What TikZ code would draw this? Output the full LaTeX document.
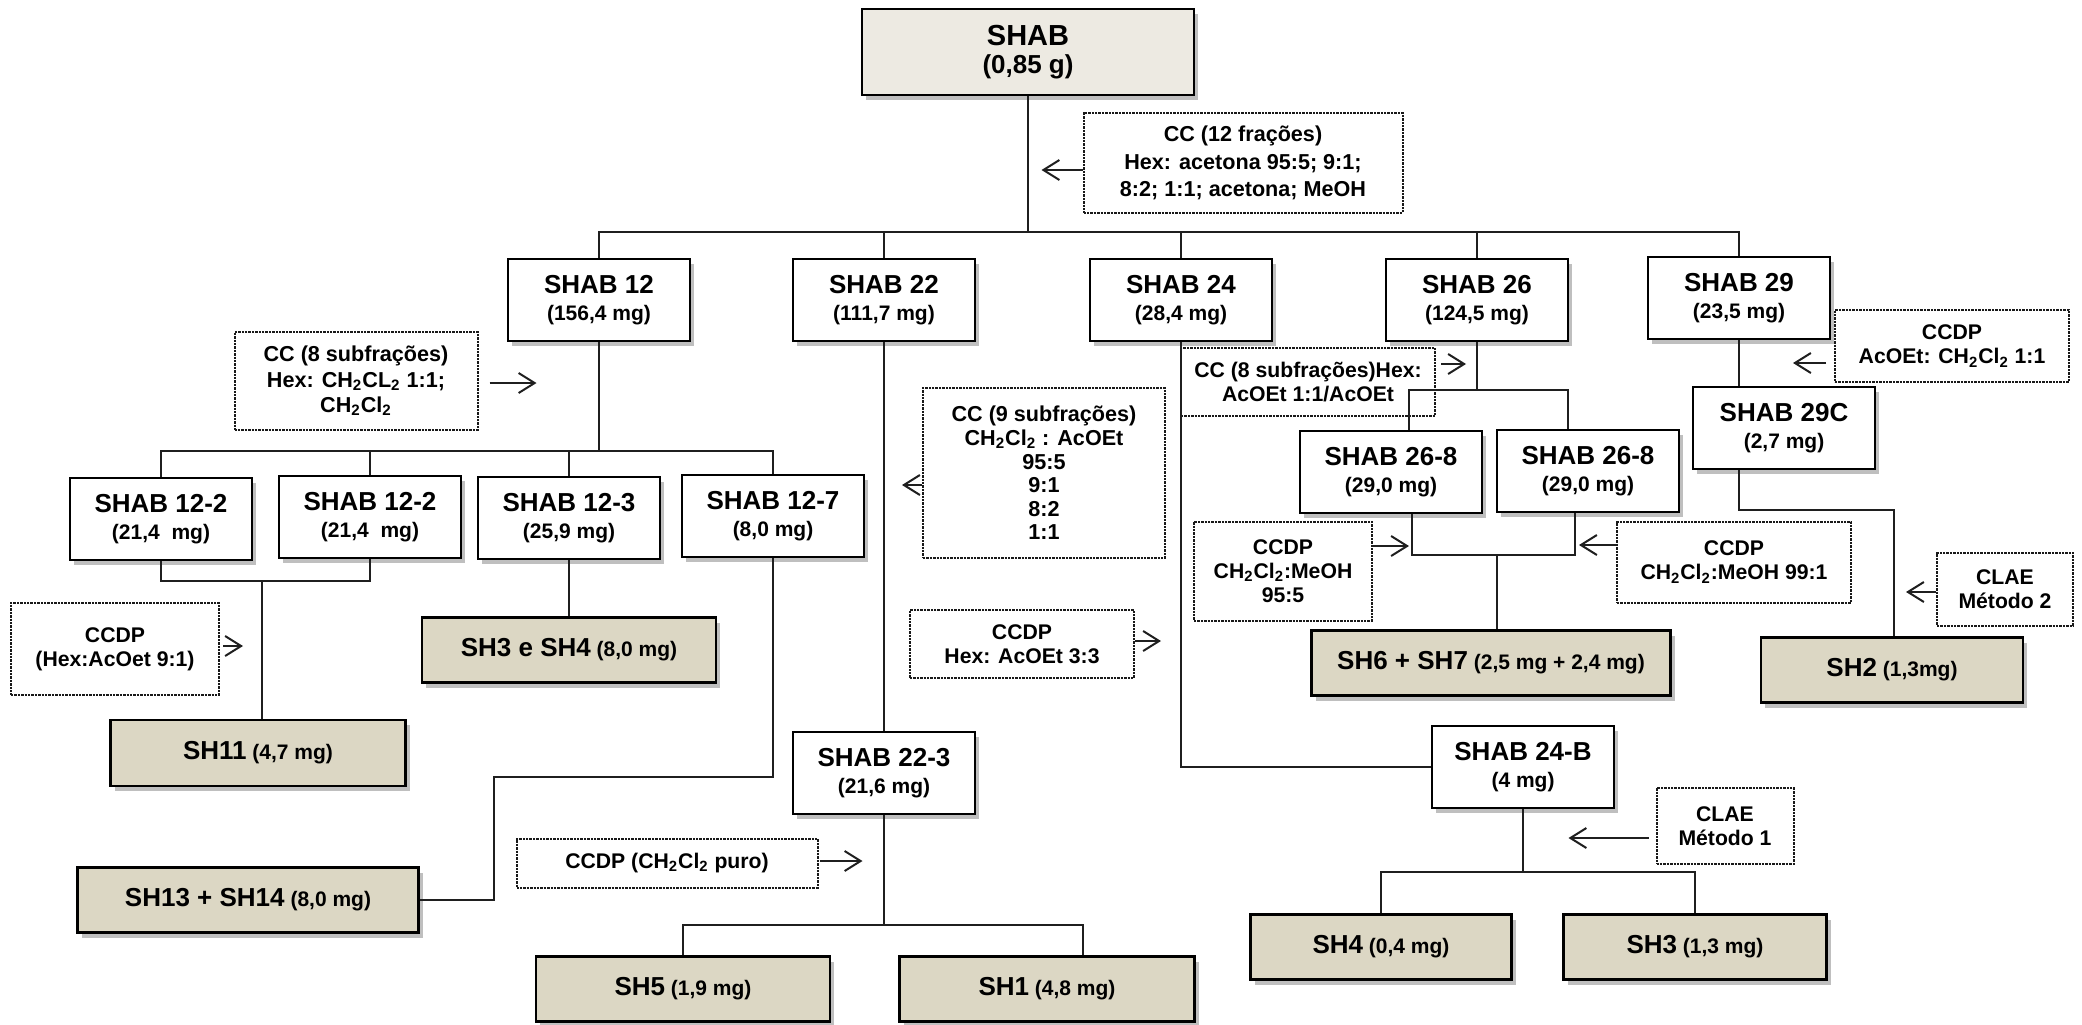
\documentclass[tikz,border=0pt]{standalone}
\usepackage{fontspec}
\setmainfont{Liberation Sans}
\usetikzlibrary{arrows.meta,calc,shadows}
\definecolor{bege}{RGB}{220,215,196}
\definecolor{begeclaro}{RGB}{237,234,226}
\newcommand{\nome}[1]{{\fontsize{13}{13.5}\selectfont #1}}
\newcommand{\dois}{\textsubscript{2}}
\begin{document}
\begin{tikzpicture}[x=0.5pt, y=-0.5pt,
        amostra/.style={draw, line width=1.35pt, fill=white, align=center, inner sep=0pt,
                minimum width=91pt, minimum height=41pt,
                font=\fontsize{10.5}{13.5}\selectfont\bfseries,
                drop shadow={shadow xshift=2pt, shadow yshift=-2.5pt, fill=black, opacity=0.25}},
        produto/.style={amostra, fill=bege, minimum height=32.5pt},
        cond/.style={draw=black!90, line width=1pt, dash pattern=on 1.2pt off 0.5pt, align=center,
                inner sep=0pt, font=\fontsize{10.6}{12}\selectfont\bfseries},
        linha/.style={line width=1pt, draw=black!88},
        seta/.style={linha, -{Straight Barb[length=8pt,width=10pt,line width=1pt]}}
    ]
    \useasboundingbox (0,0) rectangle (2082,1024);

    % extrato e primeira coluna
    \node[amostra, fill=begeclaro, minimum width=166pt, minimum height=43pt,
        font=\fontsize{13}{14}\selectfont\bfseries] (shab) at (1028,52) {{\fontsize{14.5}{14}\selectfont SHAB}\\(0,85 g)};
    \node[cond, minimum width=159.5pt, minimum height=50pt, font=\fontsize{10.8}{13.75}\selectfont\bfseries] (cc12) at (1243,163) {CC (12 frações)\\Hex: acetona 95:5; 9:1;\\8:2; 1:1; acetona; MeOH};

    % frações
    \node[amostra] (s12) at (599,300) {\nome{SHAB 12}\\(156,4 mg)};
    \node[amostra] (s22) at (884,300) {\nome{SHAB 22}\\(111,7 mg)};
    \node[amostra] (s24) at (1181,300) {\nome{SHAB 24}\\(28,4 mg)};
    \node[amostra] (s26) at (1477,300) {\nome{SHAB 26}\\(124,5 mg)};
    \node[amostra] (s29) at (1739,298) {\nome{SHAB 29}\\(23,5 mg)};

    % ramo SHAB 12
    \node[cond, minimum width=121.5pt, minimum height=49pt, font=\fontsize{10.8}{12.75}\selectfont\bfseries] (cc8) at (356,381) {CC (8 subfrações)\\Hex: CH\dois CL\dois{} 1:1;\\CH\dois Cl\dois};
    \node[amostra] (s122a) at (161,519) {\nome{SHAB 12-2}\\(21,4\ \ mg)};
    \node[amostra] (s122b) at (370,517) {\nome{SHAB 12-2}\\(21,4\ \ mg)};
    \node[amostra] (s123) at (569,518) {\nome{SHAB 12-3}\\(25,9 mg)};
    \node[amostra] (s127) at (773,516) {\nome{SHAB 12-7}\\(8,0 mg)};
    \node[cond, minimum width=104pt, minimum height=46pt] (ccdp91) at (115,649) {CCDP\\(Hex:AcOet 9:1)};
    \node[produto, minimum width=147.5pt, minimum height=33pt] (sh11) at (258,753) {\nome{SH11} (4,7 mg)};
    \node[produto, minimum width=147pt] (sh34) at (569,650) {\nome{SH3 e SH4} (8,0 mg)};
    \node[produto, minimum width=170.5pt] (sh1314) at (248,900) {\nome{SH13 + SH14} (8,0 mg)};

    % ramo SHAB 22
    \node[cond, minimum width=121pt, minimum height=85pt, font=\fontsize{10.8}{11.8}\selectfont\bfseries] (cc9) at (1044,473) {CC (9 subfrações)\\CH\dois Cl\dois{} : AcOEt\\95:5\\9:1\\8:2\\1:1};
    \node[cond, minimum width=112pt, minimum height=34pt] (ccdp33) at (1022,644) {CCDP\\Hex: AcOEt 3:3};
    \node[amostra] (s223) at (884,773) {\nome{SHAB 22-3}\\(21,6 mg)};
    \node[cond, minimum width=150.5pt, minimum height=24.5pt] (ccdppuro) at (667,863) {CCDP (CH\dois Cl\dois{} puro)};
    \node[produto, minimum width=147pt] (sh5) at (683,989) {\nome{SH5} (1,9 mg)};
    \node[produto, minimum width=147.5pt] (sh1) at (1047,989) {\nome{SH1} (4,8 mg)};

    % ramo SHAB 24 e SHAB 26
    \node[cond, minimum width=127pt, minimum height=34pt] (cc8h) at (1308,382) {CC (8 subfrações)Hex:\\AcOEt 1:1/AcOEt};
    \node[amostra] (s268a) at (1391,472) {\nome{SHAB 26-8}\\(29,0 mg)};
    \node[amostra] (s268b) at (1588,471) {\nome{SHAB 26-8}\\(29,0 mg)};
    \node[cond, minimum width=89pt, minimum height=49.5pt] (ccdp955) at (1283,571) {CCDP\\CH\dois Cl\dois:MeOH\\95:5};
    \node[cond, minimum width=117pt, minimum height=40.5pt] (ccdp991) at (1734,562) {CCDP\\CH\dois Cl\dois:MeOH 99:1};
    \node[produto, minimum width=179.5pt] (sh67) at (1491,663) {\nome{SH6 + SH7} (2,5 mg + 2,4 mg)};
    \node[amostra] (s24b) at (1523,767) {\nome{SHAB 24-B}\\(4 mg)};
    \node[cond, minimum width=68.5pt, minimum height=38pt] (clae1) at (1725,826) {CLAE\\Método 1};
    \node[produto, minimum width=130.5pt] (sh4) at (1381,947) {\nome{SH4} (0,4 mg)};
    \node[produto, minimum width=131.5pt] (sh3) at (1695,947) {\nome{SH3} (1,3 mg)};

    % ramo SHAB 29
    \node[cond, minimum width=117pt, minimum height=36pt] (ccdpac) at (1952,346) {CCDP\\AcOEt: CH\dois Cl\dois{} 1:1};
    \node[amostra] (s29c) at (1784,428) {\nome{SHAB 29C}\\(2,7 mg)};
    \node[cond, minimum width=68pt, minimum height=36.5pt] (clae2) at (2005,589) {CLAE\\Método 2};
    \node[produto, minimum width=131pt] (sh2) at (1892,670) {\nome{SH2} (1,3mg)};

    % pontos de junção
    \coordinate (b0) at (1028,232);
    \coordinate (b12) at (599,451);
    \coordinate (m12) at (262,581);
    \coordinate (k12) at (494,777);
    \coordinate (b223) at (884,925);
    \coordinate (d1) at ($(sh1.north)+(36,0)$);
    \coordinate (b26) at (1477,390);
    \coordinate (d26a) at ($(s268a.north)+(18,0)$);
    \coordinate (d26b) at ($(s268b.north)+(-20,0)$);
    \coordinate (e26a) at ($(s268a.south)+(21,0)$);
    \coordinate (e26b) at ($(s268b.south)+(-13,0)$);
    \coordinate (m26) at (1497,555);
    \coordinate (k29) at (1894,510);
    \coordinate (b24) at (1523,872);

    % ligações
    \draw[linha] (shab) -- (b0);
    \draw[linha] (s12.north) |- (b0) -| (s29.north);
    \foreach \f in {s22,s24,s26}
        \draw[linha] (\f.north) -- (\f.north |- b0);

    \draw[linha] (s12.south) -- (b12);
    \draw[linha] (s122a.north) |- (b12) -| (s127.north);
    \foreach \f in {s122b,s123}
        \draw[linha] (\f.north) -- (\f.north |- b12);
    \draw[linha] (s122a.south) |- (m12) -| (s122b.south);
    \draw[linha] (m12) -- (m12 |- sh11.north);
    \draw[linha] (s123) -- (sh34);
    \draw[linha] (s127.south) |- (k12) |- (sh1314.east);

    \draw[linha] (s22) -- (s223);
    \draw[linha] (s223.south) -- (b223);
    \draw[linha] (sh5.north) |- (b223) -| (d1);

    \draw[linha] (s24.south) |- (s24b.west);
    \draw[linha] (s26.south) -- (b26);
    \draw[linha] (d26a) |- (b26) -| (d26b);
    \draw[linha] (e26a) |- (m26) -| (e26b);
    \draw[linha] (m26) -- (m26 |- sh67.north);
    \draw[linha] (s24b.south) -- (b24);
    \draw[linha] (sh4.north) |- (b24) -| (sh3.north);

    \draw[linha] (s29.south) -- (s29.south |- s29c.north);
    \draw[linha] (s29.south |- s29c.south) |- (k29) -- (k29 |- sh2.north);

    % setas dos métodos
    \draw[seta] ($(cc12.west)+(0,7)$) -- ++(-41,0);
    \draw[seta] ($(cc8.east)+(11,2)$) -- ++(47,0);
    \draw[seta] ($(ccdp91.east)+(3,-3)$) -- ++(20,0);
    \draw[seta] ($(cc9.west)+(0,12)$) -- ++(-20,0);
    \draw[seta] ($(ccdp33.east)+(0,-3)$) -- ++(26,0);
    \draw[seta] ($(ccdppuro.east)+(1,-2)$) -- ++(43,0);
    \draw[seta] ($(cc8h.east)+(5,-18)$) -- ++(25,0);
    \draw[seta] ($(ccdp955.east)+(0,-25)$) -- ++(36,0);
    \draw[seta] ($(ccdp991.west)+(0,-17)$) -- ++(-37,0);
    \draw[seta] ($(ccdpac.west)+(-8,17)$) -- ++(-33,0);
    \draw[seta] ($(clae2.west)+(0,3)$) -- ++(-30,0);
    \draw[seta] ($(clae1.west)+(-7,12)$) -- ++(-80,0);
\end{tikzpicture}
\end{document}
